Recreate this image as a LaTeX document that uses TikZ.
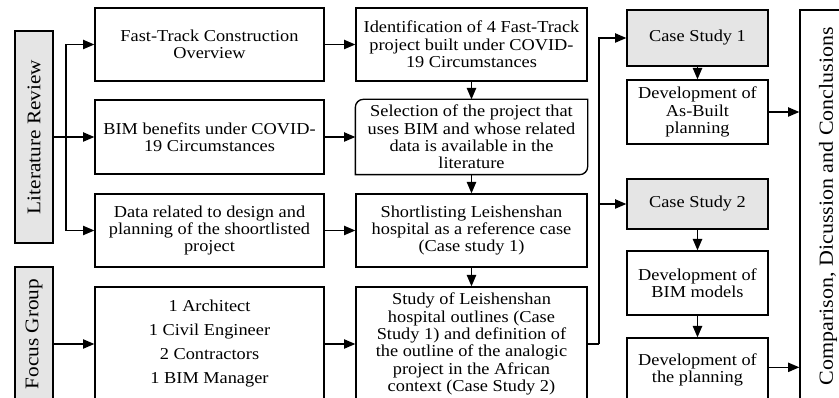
\documentclass[tikz,border=0pt]{standalone}
\usepackage{fontspec}
\setmainfont{Liberation Serif}[FakeStretch=1.1]
\usetikzlibrary{arrows.meta,positioning,calc}

\begin{document}
\begin{tikzpicture}[x=0.75pt, y=-0.75pt,
    box/.style={draw, line width=1pt, align=center, inner sep=0pt,
      font=\fontsize{12.5}{13}\selectfont},
    colA/.style={box, minimum width=171.75pt},
    colB/.style={box, minimum width=173.25pt},
    colC/.style={box, minimum width=105.75pt},
    side/.style={box, fill=black!10, rotate=90, font=\fontsize{14.5}{15}\selectfont},
    arr/.style={line width=1pt, -{Triangle[length=8.5pt, width=7pt]}}]
    \useasboundingbox (0,0) rectangle (839,398);
    \clip (0,0) rectangle (839,398);

    % left: sources
    \node[side, minimum width=159pt, minimum height=28.5pt] (lit) at (34,137) {Literature Review};
    \node[side, minimum width=100.5pt, minimum height=28.5pt] (focus) at (34,334) {Focus Group};

    % first column
    \node[colA, minimum height=54.75pt] (fast) at (209.5,44.5) {Fast-Track Construction\\Overview};
    \node[colA, minimum height=55.5pt] (bimben) at (209.5,137) {BIM benefits under COVID-\\19 Circumstances};
    \node[colA, minimum height=54.75pt] (data) at (209.5,230.5) {Data related to design and\\planning of the shoortlisted\\project};
    \node[colA, minimum height=85.5pt, font=\fontsize{12.5}{18}\selectfont] (team) at (209.5,344)
      {1 Architect\\1 Civil Engineer\\2 Contractors\\1 BIM Manager};

    % second column
    \node[colB, minimum height=54.75pt] (ident) at (471.5,44.5) {Identification of 4 Fast-Track\\project built under COVID-\\19 Circumstances};
    \node[colB, minimum height=55.5pt, draw=none] (select) at (471.5,137) {Selection of the project that\\uses BIM and whose related\\data is available in the\\literature};
    \draw[line width=1pt] (select.north east) -- ([yshift=6pt]select.south east)
      arc[start angle=0, end angle=-90, radius=6pt] -- (select.south west)
      -- ([yshift=-6pt]select.north west) arc[start angle=180, end angle=90, radius=6pt] -- cycle;
    \node[colB, minimum height=54.75pt] (short) at (471.5,230.5) {Shortlisting Leishenshan\\hospital as a reference case\\(Case study 1)};
    \node[colB, minimum height=85.5pt] (study) at (471.5,344) {Study of Leishenshan\\hospital outlines (Case\\Study 1) and definition of\\the outline of the analogic\\project in the African\\context (Case Study 2)};

    % third column
    \node[colC, fill=black!10, minimum height=42pt] (case1) at (697.5,38) {Case Study 1};
    \node[colC, minimum height=48pt] (asbuilt) at (697.5,112) {Development of\\As-Built\\planning};
    \node[colC, fill=black!10, minimum height=37.5pt] (case2) at (697.5,204) {Case Study 2};
    \node[colC, minimum height=48pt] (bimmod) at (697.5,283) {Development of\\BIM models};
    \node[colC, minimum height=48pt] (plan) at (697.5,370) {Development of\\the planning};

    % right
    \node[side, fill=none, minimum width=294pt, minimum height=42pt, font=\fontsize{15}{16}\selectfont]
      (concl) at (828,206) {Comparison, Dicussion and Conclusions};

    % connectors
    \coordinate (split) at (66,137);
    \coordinate (bus) at (599,344);
    \draw[arr] (lit) -- (bimben);
    \draw[arr] (split) |- (fast.west);
    \draw[arr] (split) |- (data.west);
    \draw[arr] (team.west -| focus.south) -- (team.west);
    \foreach \u/\v in {fast/ident,bimben/select,data/short,team/study,ident/select,select/short,short/study,case1/asbuilt,case2/bimmod,bimmod/plan}{
      \draw[arr] (\u) -- (\v);
    }
    \draw[line width=1pt] (study.east) -- (bus);
    \draw[arr] (bus) |- (case1.west);
    \draw[arr] (bus) |- (case2.west);
    \draw[arr] (asbuilt.east) -- (asbuilt.east -| concl.north);
    \draw[arr] ([yshift=2pt]plan.east) -- ([yshift=2pt]plan.east -| concl.north);
\end{tikzpicture}
\end{document}
